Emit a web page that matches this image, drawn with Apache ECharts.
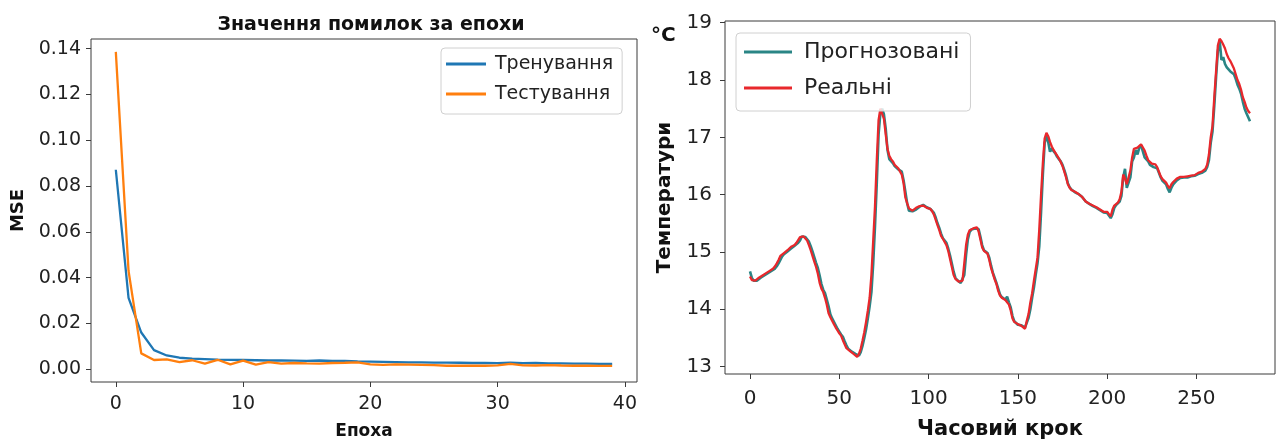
<!DOCTYPE html>
<html>
<head>
<meta charset="utf-8">
<script src="https://cdn.jsdelivr.net/npm/echarts@6/dist/echarts.min.js"></script>
<style>
  html, body { margin: 0; padding: 0; background: #fff; }
  #chart { width: 1281px; height: 445px; }
</style>
</head>
<body>
<div id="chart"></div>
<script>
// ---- Loss per epoch (left panel) ----
const trainLoss = [
  0.0871, 0.0311, 0.0160, 0.0083, 0.0060, 0.0050, 0.0046, 0.0044, 0.0042, 0.0041,
  0.0040, 0.0039, 0.0038, 0.0038, 0.0037, 0.0036, 0.0038, 0.0036, 0.0036, 0.0034,
  0.0033, 0.0032, 0.0031, 0.0030, 0.0030, 0.0029, 0.0029, 0.0028, 0.0027, 0.0027,
  0.0026, 0.0028, 0.0026, 0.0027, 0.0025, 0.0025, 0.0024, 0.0024, 0.0023, 0.0023
];
const testLoss = [
  0.1386, 0.0429, 0.0069, 0.0040, 0.0043, 0.0031, 0.0039, 0.0024, 0.0041, 0.0021,
  0.0037, 0.0020, 0.0031, 0.0024, 0.0027, 0.0025, 0.0024, 0.0027, 0.0028, 0.0030,
  0.0021, 0.0019, 0.0021, 0.0020, 0.0019, 0.0018, 0.0015, 0.0015, 0.0015, 0.0015,
  0.0017, 0.0023, 0.0017, 0.0016, 0.0018, 0.0016, 0.0015, 0.0015, 0.0014, 0.0014
];
const lossTicks = [0, 0.02, 0.04, 0.06, 0.08, 0.10, 0.12, 0.14];
const epochTicks = [0, 10, 20, 30, 40];

// ---- Temperature per time step (right panel) ----
const realTemp = [
  14.57, 14.51, 14.48, 14.50, 14.53, 14.55, 14.57, 14.59, 14.61, 14.63,
  14.65, 14.67, 14.69, 14.71, 14.75, 14.80, 14.86, 14.93, 14.96, 14.98,
  15.01, 15.03, 15.06, 15.09, 15.11, 15.12, 15.16, 15.19, 15.26, 15.29,
  15.27, 15.25, 15.20, 15.12, 15.03, 14.93, 14.83, 14.74, 14.62, 14.46,
  14.36, 14.30, 14.20, 14.08, 13.93, 13.86, 13.80, 13.74, 13.68, 13.63,
  13.58, 13.54, 13.46, 13.39, 13.32, 13.29, 13.27, 13.25, 13.22, 13.20,
  13.17, 13.22, 13.31, 13.45, 13.60, 13.78, 13.98, 14.20, 14.60, 15.20,
  15.80, 16.60, 17.30, 17.50, 17.48, 17.32, 17.05, 16.80, 16.68, 16.62,
  16.58, 16.52, 16.49, 16.46, 16.45, 16.35, 16.20, 15.95, 15.85, 15.76,
  15.73, 15.72, 15.74, 15.77, 15.79, 15.80, 15.82, 15.81, 15.79, 15.77,
  15.76, 15.75, 15.71, 15.65, 15.56, 15.47, 15.38, 15.28, 15.23, 15.20,
  15.12, 15.02, 14.88, 14.74, 14.60, 14.53, 14.50, 14.48, 14.48, 14.50,
  14.80, 15.12, 15.30, 15.38, 15.40, 15.41, 15.42, 15.43, 15.36, 15.22,
  15.08, 15.02, 15.00, 14.97, 14.86, 14.72, 14.62, 14.52, 14.44, 14.32,
  14.24, 14.20, 14.18, 14.16, 14.14, 14.08, 13.98, 13.84, 13.78, 13.75,
  13.74, 13.73, 13.71, 13.69, 13.66, 13.80, 13.92, 14.12, 14.28, 14.50,
  14.70, 14.90, 15.40, 16.00, 16.55, 16.98, 17.08, 17.02, 16.92, 16.84,
  16.78, 16.73, 16.68, 16.63, 16.57, 16.50, 16.40, 16.30, 16.18, 16.12,
  16.08, 16.06, 16.05, 16.03, 16.01, 16.00, 15.96, 15.92, 15.88, 15.86,
  15.84, 15.83, 15.81, 15.79, 15.78, 15.76, 15.74, 15.72, 15.70, 15.69,
  15.70, 15.66, 15.62, 15.74, 15.81, 15.84, 15.86, 15.92, 16.05, 16.35,
  16.28, 16.18, 16.20, 16.42, 16.65, 16.80, 16.79, 16.82, 16.84, 16.88,
  16.86, 16.77, 16.68, 16.60, 16.57, 16.54, 16.52, 16.53, 16.48, 16.40,
  16.32, 16.27, 16.25, 16.21, 16.15, 16.11, 16.18, 16.22, 16.25, 16.28,
  16.30, 16.31, 16.32, 16.31, 16.32, 16.32, 16.33, 16.33, 16.34, 16.34,
  16.36, 16.38, 16.39, 16.40, 16.41, 16.45, 16.52, 16.70, 17.00, 17.20,
  17.70, 18.15, 18.60, 18.72, 18.68, 18.62, 18.55, 18.45, 18.38, 18.33,
  18.31, 18.20, 18.10, 18.00, 17.93, 17.83, 17.70, 17.62, 17.52, 17.46,
  17.42
];
const predTemp = [
  14.66, 14.55, 14.50, 14.48, 14.50, 14.53, 14.55, 14.57, 14.59, 14.61,
  14.63, 14.65, 14.67, 14.69, 14.71, 14.75, 14.80, 14.86, 14.92, 14.96,
  14.98, 15.01, 15.03, 15.06, 15.09, 15.11, 15.13, 15.16, 15.20, 15.27,
  15.29, 15.26, 15.24, 15.18, 15.10, 15.01, 14.91, 14.81, 14.72, 14.59,
  14.44, 14.34, 14.28, 14.17, 14.05, 13.91, 13.84, 13.78, 13.72, 13.66,
  13.61, 13.56, 13.52, 13.44, 13.37, 13.31, 13.28, 13.26, 13.24, 13.22,
  13.19, 13.19, 13.25, 13.36, 13.50, 13.65, 13.84, 14.05, 14.30, 14.80,
  15.45, 16.20, 17.05, 17.42, 17.50, 17.40, 17.15, 16.78, 16.62, 16.62,
  16.55, 16.50, 16.47, 16.44, 16.44, 16.40, 16.25, 16.05, 15.85, 15.72,
  15.69, 15.71, 15.72, 15.74, 15.77, 15.79, 15.80, 15.82, 15.80, 15.78,
  15.76, 15.75, 15.73, 15.68, 15.60, 15.50, 15.42, 15.32, 15.24, 15.21,
  15.16, 15.06, 14.94, 14.80, 14.66, 14.55, 14.51, 14.48, 14.46, 14.47,
  14.60, 14.95, 15.22, 15.35, 15.39, 15.40, 15.41, 15.42, 15.40, 15.27,
  15.12, 15.03, 15.00, 14.98, 14.90, 14.76, 14.64, 14.55, 14.46, 14.36,
  14.26, 14.21, 14.19, 14.17, 14.22, 14.12, 14.03, 13.88, 13.79, 13.76,
  13.73, 13.74, 13.72, 13.70, 13.68, 13.70, 13.85, 14.00, 14.20, 14.38,
  14.60, 14.80, 15.10, 15.70, 16.35, 16.90, 17.02, 16.92, 16.75, 16.80,
  16.76, 16.72, 16.66, 16.62, 16.58, 16.52, 16.43, 16.33, 16.20, 16.13,
  16.09, 16.06, 16.04, 16.03, 16.01, 15.99, 15.96, 15.92, 15.88, 15.85,
  15.84, 15.82, 15.80, 15.79, 15.77, 15.75, 15.73, 15.71, 15.69, 15.68,
  15.68, 15.65, 15.59, 15.66, 15.77, 15.82, 15.84, 15.88, 15.98, 16.30,
  16.45, 16.12, 16.14, 16.30, 16.58, 16.65, 16.78, 16.70, 16.82, 16.86,
  16.87, 16.65, 16.66, 16.58, 16.52, 16.50, 16.48, 16.50, 16.46, 16.38,
  16.30, 16.24, 16.22, 16.18, 16.10, 16.04, 16.12, 16.18, 16.21, 16.25,
  16.27, 16.29, 16.30, 16.30, 16.30, 16.30, 16.31, 16.32, 16.32, 16.33,
  16.34, 16.36, 16.37, 16.38, 16.40, 16.42, 16.48, 16.60, 16.90, 17.10,
  17.55, 18.05, 18.50, 18.70, 18.35, 18.40, 18.28, 18.22, 18.20, 18.15,
  18.14, 18.10, 18.02, 17.92, 17.85, 17.76, 17.62, 17.50, 17.42, 17.35,
  17.28
];
const tempTicks = [13, 14, 15, 16, 17, 18, 19];
const stepTicks = [0, 50, 100, 150, 200, 250];

const FONT = 'DejaVu Sans';
const INK = '#222222';
const FRAME = '#3a3a3a';

function pairs(values) {
  return values.map((v, i) => [i, v]);
}

function valueAxis(gridIndex, min, max, ticks, opts) {
  return Object.assign({
    type: 'value',
    gridIndex: gridIndex,
    min: min,
    max: max,
    splitLine: { show: false },
    axisLine: { show: false, onZero: false },
    axisTick: {
      show: true, inside: false, length: 5,
      customValues: ticks,
      lineStyle: { color: FRAME, width: 1 }
    },
    nameLocation: 'middle'
  }, opts || {});
}

const chart = echarts.init(document.getElementById('chart'), null, { renderer: 'canvas' });

chart.setOption({
  animation: false,
  backgroundColor: '#ffffff',
  title: {
    text: 'Значення помилок за епохи',
    left: 366,
    top: 11,
    textAlign: 'center',
    textStyle: { fontFamily: FONT, fontWeight: 'bold', fontSize: 19, color: '#111' }
  },
  grid: [
    { left: 91, right: 644, top: 39, bottom: 55, show: true, borderColor: FRAME, borderWidth: 1 },
    { left: 725, right: 6, top: 21, bottom: 64, show: true, borderColor: FRAME, borderWidth: 1 }
  ],
  xAxis: [
    valueAxis(0, -1.95, 40.95, epochTicks, {
      name: 'Епоха', nameGap: 41,
      nameTextStyle: { fontFamily: FONT, fontWeight: 'bold', fontSize: 17, color: '#111' },
      axisLabel: { customValues: epochTicks, color: INK, fontFamily: FONT, fontSize: 19, margin: 13 }
    }),
    valueAxis(1, -14, 294, stepTicks, {
      name: 'Часовий крок', nameGap: 45,
      nameTextStyle: { fontFamily: FONT, fontWeight: 'bold', fontSize: 21, color: '#111' },
      axisLabel: { customValues: stepTicks, color: INK, fontFamily: FONT, fontSize: 20, margin: 15 }
    })
  ],
  yAxis: [
    valueAxis(0, -0.0056, 0.1442, lossTicks, {
      name: 'MSE', nameGap: 64,
      nameTextStyle: { fontFamily: FONT, fontWeight: 'bold', fontSize: 18, color: '#111' },
      axisLabel: {
        customValues: lossTicks, color: INK, fontFamily: FONT, fontSize: 19, margin: 10,
        formatter: v => v.toFixed(2)
      }
    }),
    valueAxis(1, 12.87, 19.03, tempTicks, {
      name: 'Температури', nameGap: 50,
      nameTextStyle: { fontFamily: FONT, fontWeight: 'bold', fontSize: 20, color: '#111' },
      axisLabel: { customValues: tempTicks, color: INK, fontFamily: FONT, fontSize: 20, margin: 13 }
    })
  ],
  legend: [
    {
      data: ['Тренування', 'Тестування'],
      orient: 'vertical',
      left: 441, top: 48,
      icon: 'rect', itemWidth: 40, itemHeight: 3, itemGap: 8,
      padding: [5, 9, 9, 5],
      backgroundColor: 'rgba(255,255,255,0.8)',
      borderColor: '#d0d0d0', borderWidth: 1, borderRadius: 4,
      textStyle: { fontFamily: FONT, fontSize: 19, color: INK, lineHeight: 22, padding: [0, 0, 0, 4] }
    },
    {
      data: ['Прогнозовані', 'Реальні'],
      orient: 'vertical',
      left: 736, top: 33,
      icon: 'rect', itemWidth: 48, itemHeight: 3, itemGap: 10,
      padding: [6, 11, 10, 8],
      backgroundColor: 'rgba(255,255,255,0.8)',
      borderColor: '#d0d0d0', borderWidth: 1, borderRadius: 4,
      textStyle: { fontFamily: FONT, fontSize: 22, color: INK, lineHeight: 26, padding: [0, 0, 0, 7] }
    }
  ],
  graphic: [
    {
      type: 'text',
      left: 651, top: 26,
      style: { text: '°C', fontFamily: FONT, fontWeight: 'bold', fontSize: 20, fill: '#111' }
    }
  ],
  series: [
    {
      name: 'Тренування', type: 'line', xAxisIndex: 0, yAxisIndex: 0,
      data: pairs(trainLoss), showSymbol: false, symbol: 'none',
      lineStyle: { color: '#1f77b4', width: 2.3 }, itemStyle: { color: '#1f77b4' }
    },
    {
      name: 'Тестування', type: 'line', xAxisIndex: 0, yAxisIndex: 0,
      data: pairs(testLoss), showSymbol: false, symbol: 'none',
      lineStyle: { color: '#ff7f0e', width: 2.3 }, itemStyle: { color: '#ff7f0e' }
    },
    {
      name: 'Прогнозовані', type: 'line', xAxisIndex: 1, yAxisIndex: 1,
      data: pairs(predTemp), showSymbol: false, symbol: 'none',
      lineStyle: { color: '#2a8585', width: 2.6 }, itemStyle: { color: '#2a8585' }
    },
    {
      name: 'Реальні', type: 'line', xAxisIndex: 1, yAxisIndex: 1,
      data: pairs(realTemp), showSymbol: false, symbol: 'none',
      lineStyle: { color: '#e8282c', width: 2.3 }, itemStyle: { color: '#e8282c' }
    }
  ]
});
</script>
</body>
</html>
